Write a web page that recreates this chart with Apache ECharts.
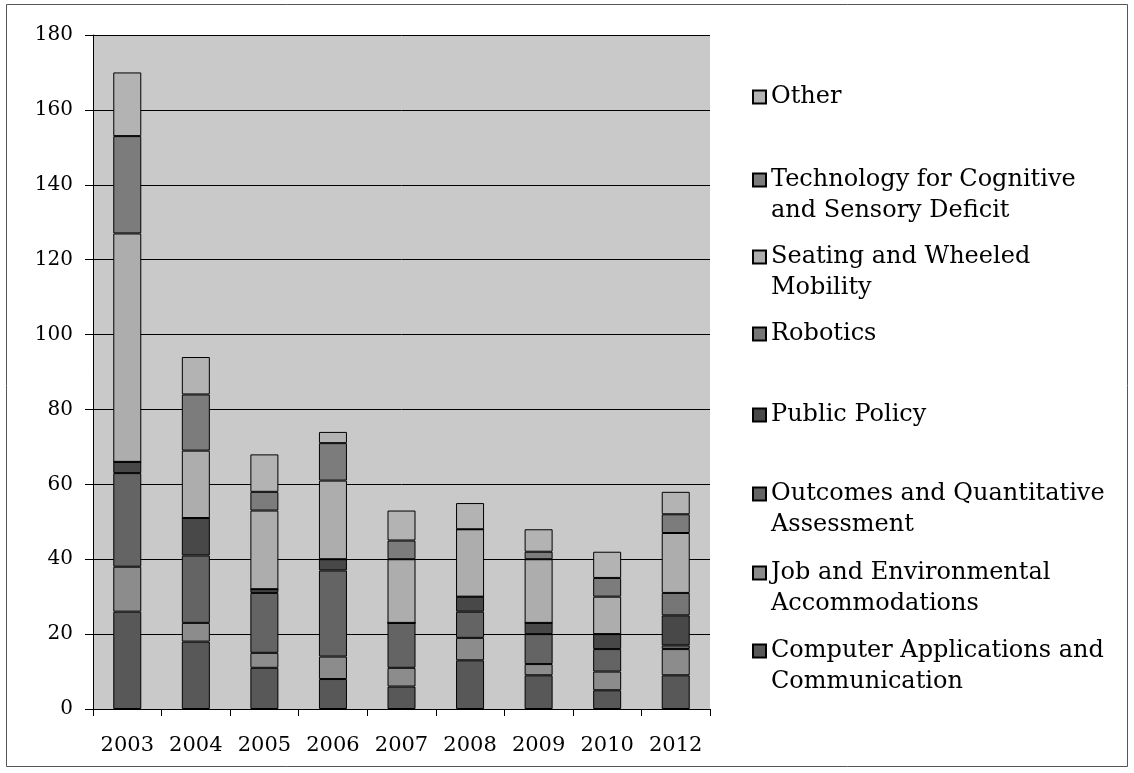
<!DOCTYPE html>
<html>
<head>
<meta charset="utf-8">
<script src="https://cdn.jsdelivr.net/npm/echarts@6/dist/echarts.min.js"></script>
<style>
  html, body { margin: 0; padding: 0; background: #ffffff; }
  #chart { width: 1134px; height: 773px; }
</style>
</head>
<body>
<div id="chart"></div>
<script>
// Years on the category axis
const years = ['2003', '2004', '2005', '2006', '2007', '2008', '2009', '2010', '2012'];

// Counts per topic, stacked bottom to top
const computerApps   = [26, 18, 11, 8, 6, 13, 9, 5, 9];
const jobEnv         = [12, 5, 4, 6, 5, 6, 3, 5, 7];
const outcomes       = [25, 18, 16, 23, 12, 7, 8, 6, 1];
const publicPolicy   = [3, 10, 1, 3, 0, 4, 3, 4, 8];
const robotics       = [0, 0, 0, 0, 0, 0, 0, 0, 6];
const seating        = [61, 18, 21, 21, 17, 18, 17, 10, 16];
const techCognitive  = [26, 15, 5, 10, 5, 0, 2, 5, 5];
const other          = [17, 10, 10, 3, 8, 7, 6, 7, 6];

// Y axis scale
const yMin = 0, yMax = 180, yStep = 20;

const FONT = '"DejaVu Serif", serif';

const seriesDefs = [
  { name: 'Computer Applications and\nCommunication', data: computerApps, color: '#585858' },
  { name: 'Job and Environmental\nAccommodations', data: jobEnv, color: '#8c8c8c' },
  { name: 'Outcomes and Quantitative\nAssessment', data: outcomes, color: '#646464' },
  { name: 'Public Policy', data: publicPolicy, color: '#484848' },
  { name: 'Robotics', data: robotics, color: '#767676' },
  { name: 'Seating and Wheeled\nMobility', data: seating, color: '#adadad' },
  { name: 'Technology for Cognitive\nand Sensory Deficit', data: techCognitive, color: '#7c7c7c' },
  { name: 'Other', data: other, color: '#b3b3b3' }
];

// Legend entries, top to bottom, with the vertical centre of their first line
const LINE_H = 31;
const SW = 13;
const legendOrder = [7, 6, 5, 4, 3, 2, 1, 0];
const legendFirstLineCentre = [97, 179, 256, 334, 415, 493, 572, 650];

// Two-line entries: swatch sits beside the first line, so the icon box spans
// both lines with the square drawn in its upper half.
const top0 = LINE_H / 2 - SW / 2;
const twoLineIcon = 'path://M0,0M0,' + top0 + 'L' + SW + ',' + top0 + 'L' + SW + ',' + (top0 + SW) +
  'L0,' + (top0 + SW) + 'Z M' + SW + ',' + (2 * LINE_H);

const legends = legendOrder.map((idx, i) => {
  const s = seriesDefs[idx];
  const twoLines = s.name.indexOf('\n') >= 0;
  const c = legendFirstLineCentre[i];
  return {
    orient: 'vertical',
    left: 752,
    top: c - LINE_H / 2,
    padding: 0,
    itemWidth: SW,
    itemHeight: twoLines ? 2 * LINE_H : SW,
    icon: twoLines ? twoLineIcon : 'rect',
    data: [s.name],
    selectedMode: false,
    textStyle: {
      fontFamily: FONT,
      fontSize: 24,
      color: '#000',
      lineHeight: LINE_H
    }
  };
});

const chart = echarts.init(document.getElementById('chart'));
chart.setOption({
  animation: false,
  backgroundColor: '#ffffff',
  graphic: [{
    type: 'rect',
    shape: { x: 6.5, y: 4.5, width: 1121, height: 762 },
    style: { fill: 'none', stroke: '#555', lineWidth: 1 },
    silent: true
  }],
  legend: legends,
  grid: {
    left: 93, right: 424, top: 35, bottom: 64,
    show: true, backgroundColor: '#c9c9c9', borderWidth: 0
  },
  xAxis: {
    type: 'category',
    data: years,
    axisLine: { lineStyle: { color: '#000', width: 1 } },
    axisTick: { show: true, length: 7, lineStyle: { color: '#000' } },
    axisLabel: { interval: 0, fontFamily: FONT, fontSize: 21, color: '#000', margin: 26 }
  },
  yAxis: {
    type: 'value',
    min: yMin, max: yMax, interval: yStep,
    axisLine: { show: true, lineStyle: { color: '#000', width: 1 } },
    axisTick: { show: true, length: 8, lineStyle: { color: '#000' } },
    axisLabel: { fontFamily: FONT, fontSize: 20, color: '#000', margin: 20 },
    splitLine: { show: true, lineStyle: { color: '#000', width: 1 } }
  },
  series: seriesDefs.map(s => ({
    type: 'bar',
    name: s.name,
    stack: 'total',
    data: s.data,
    barWidth: 28,
    itemStyle: { color: s.color, borderColor: '#000', borderWidth: 1 }
  }))
});
</script>
</body>
</html>
